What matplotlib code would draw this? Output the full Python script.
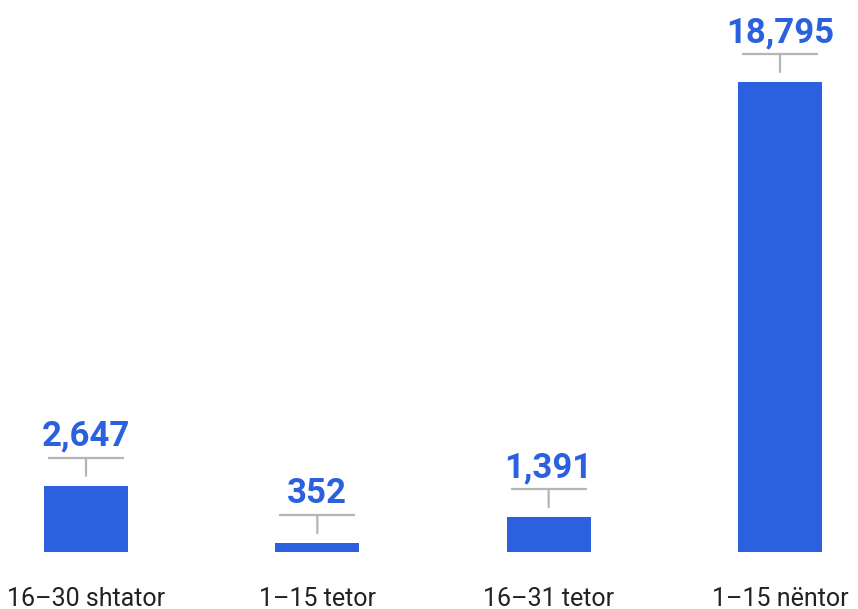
import matplotlib
matplotlib.use("Agg")
import matplotlib.pyplot as plt
from matplotlib.transforms import offset_copy

categories = ["16–30 shtator", "1–15 tetor", "16–31 tetor", "1–15 nëntor"]
values = [2647, 352, 1391, 18795]

plt.rcParams['font.family'] = ['Roboto', 'DejaVu Sans']

BLUE = "#2b60de"
GRAY = "#b5b5b5"

fig = plt.figure(figsize=(8.58, 6.09), dpi=100)
W, H = 858, 609
ax = fig.add_axes([0, (H - 552) / H, 1, 552 / H])

x = list(range(len(values)))
spacing = (780 - 86) / 3
ax.set_xlim(-86 / spacing, (W - 86) / spacing)
ax.set_ylim(0, max(values) * 552 / 470)

ax.bar(x, values, width=84 / spacing, color=BLUE, zorder=2)

half = 38 / spacing
for xi, v in zip(x, values):
    tv = offset_copy(ax.transData, fig=fig, x=0, y=10, units='dots')
    th = offset_copy(ax.transData, fig=fig, x=0, y=28, units='dots')
    tt = offset_copy(ax.transData, fig=fig, x=0, y=40, units='dots')
    ax.annotate("", xy=(xi, v), xytext=(xi, v), xycoords=tv, textcoords=th,
                arrowprops=dict(arrowstyle="-", color=GRAY, lw=1.6,
                                shrinkA=0, shrinkB=0))
    ax.plot([xi - half, xi + half], [v, v], transform=th, color=GRAY,
            lw=1.6, solid_capstyle='butt', clip_on=False)
    ax.text(xi, v, f"{v:,}", transform=tt, ha='center', va='baseline',
            fontsize=25, fontweight='bold', color=BLUE, clip_on=False)

ax.set_xticks(x)
ax.set_xticklabels(categories, fontsize=18, color="#222222")
ax.tick_params(axis='x', length=0, pad=25)
ax.set_yticks([])
for s in ax.spines.values():
    s.set_visible(False)

fig.savefig("out.png", dpi=100)
